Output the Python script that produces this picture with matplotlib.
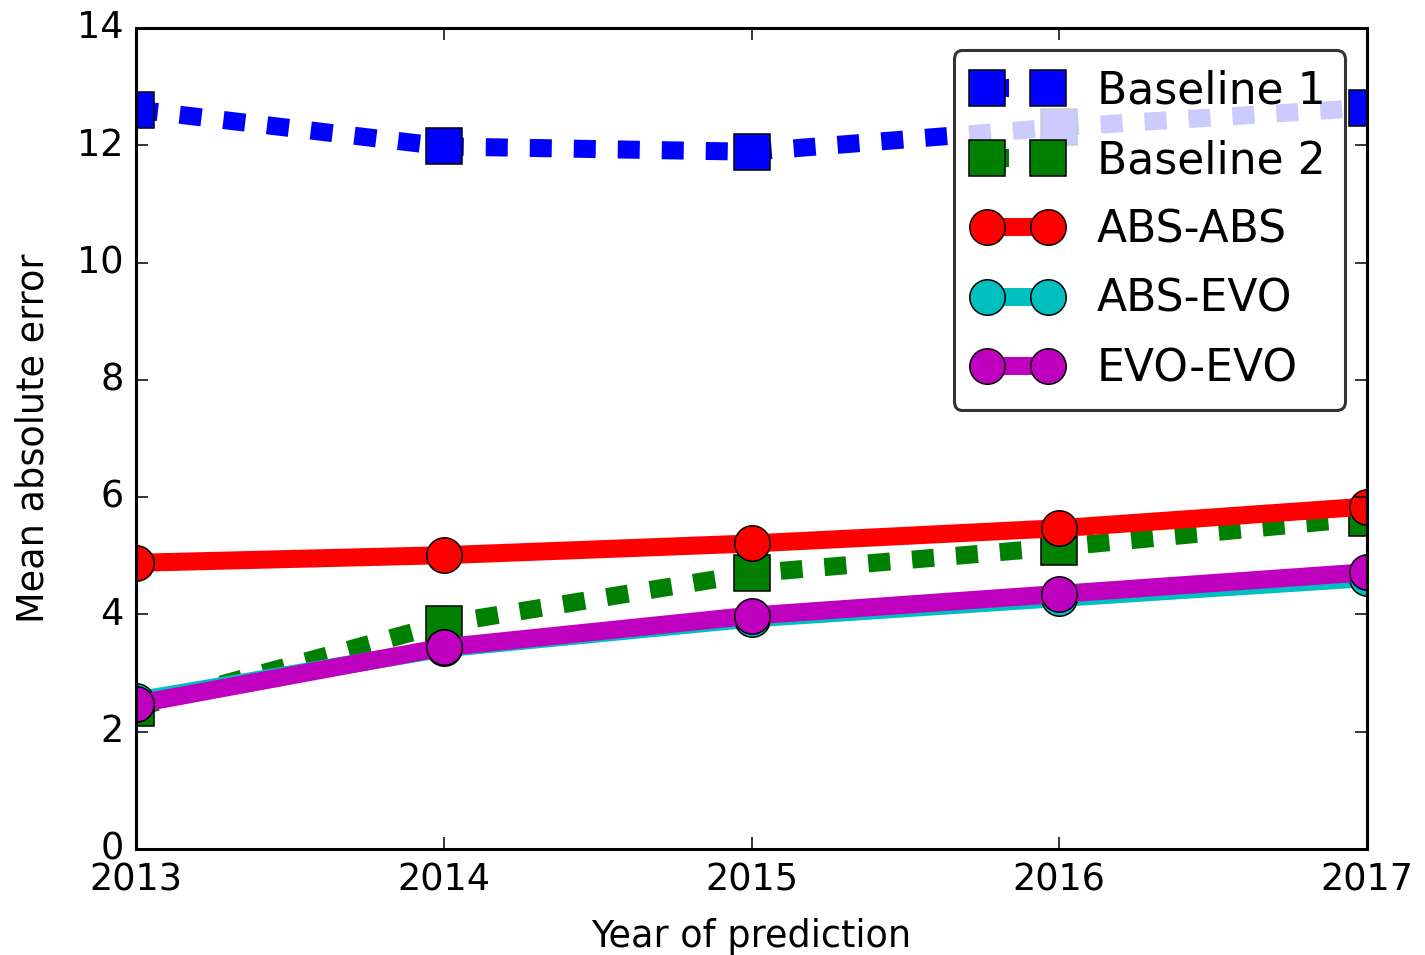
import matplotlib
matplotlib.use("Agg")
import matplotlib.pyplot as plt

plt.style.use("classic")
plt.rcParams["lines.scale_dashes"] = False

years = [2013, 2014, 2015, 2016, 2017]
baseline1 = [12.61, 11.98, 11.89, 12.31, 12.64]
baseline2 = [2.41, 3.84, 4.70, 5.15, 5.65]
abs_abs = [4.88, 5.01, 5.21, 5.47, 5.84]
abs_evo = [2.53, 3.42, 3.93, 4.28, 4.62]
evo_evo = [2.47, 3.44, 3.98, 4.35, 4.72]
labels = ["Baseline 1", "Baseline 2", "ABS-ABS", "ABS-EVO", "EVO-EVO"]
yticks = [0, 2, 4, 6, 8, 10, 12, 14]

DPI = 220
fig = plt.figure(figsize=(1425 / DPI, 955 / DPI), dpi=DPI)
ax = fig.add_axes([136 / 1425, 1 - 849 / 955, (1367 - 136) / 1425, (849 - 28) / 955])

lw = 5.9
ms = 11.6
dots = (0, (7.2, 7.2))
ax.plot(years, baseline1, color="b", linestyle=dots, marker="s", lw=lw, ms=ms, label=labels[0])
ax.plot(years, baseline2, color="g", linestyle=dots, marker="s", lw=lw, ms=ms, label=labels[1])
ax.plot(years, abs_abs, color="r", linestyle="-", marker="o", lw=lw, ms=ms, label=labels[2])
ax.plot(years, abs_evo, color="c", linestyle="-", marker="o", lw=lw, ms=ms, label=labels[3])
ax.plot(years, evo_evo, color="m", linestyle="-", marker="o", lw=lw, ms=ms, label=labels[4])

ax.set_xlim(2013, 2017)
ax.set_ylim(0, 14)
ax.set_xticks(years)
ax.set_xticklabels([str(y) for y in years])
ax.set_yticks(yticks)
ax.set_xlabel("Year of prediction", labelpad=6.6)
ax.set_ylabel("Mean absolute error", labelpad=8.3)

leg = ax.legend(loc="upper right", numpoints=2, framealpha=0.8, fancybox=True,
                labelspacing=0.6, borderpad=0.45)

fig.savefig("out.png", dpi=DPI)
